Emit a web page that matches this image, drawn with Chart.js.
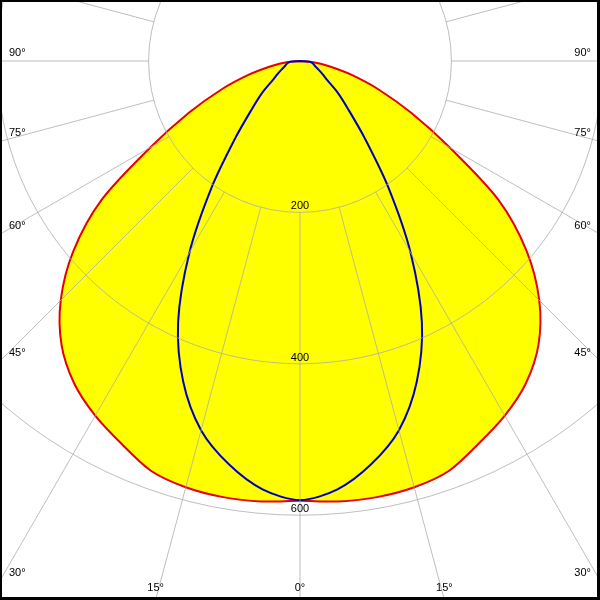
<!DOCTYPE html>
<html>
<head>
<meta charset="utf-8">
<script src="https://cdn.jsdelivr.net/npm/chart.js@4.4.1/dist/chart.umd.min.js"></script>
<style>
  body { margin: 0; background: #fff; }
  #wrap { position: relative; width: 600px; height: 600px; overflow: hidden; background: #fff; }
  #polar { position: absolute; left: -457px; top: -696px; }
  #frame { position: absolute; left: 0; top: 0; width: 600px; height: 600px; box-sizing: border-box;
           border-style: solid; border-color: #000; border-width: 2px 3px 3px 2px; pointer-events: none; }
</style>
</head>
<body>
<div id="wrap">
  <canvas id="polar" width="1514" height="1514"></canvas>
  <div id="frame"></div>
</div>
<script>
// gamma angles (deg from nadir), 5 deg steps, 0..90
const gamma = [0, 5, 10, 15, 20, 25, 30, 35, 40, 45, 50, 55, 60, 65, 70, 75, 80, 85, 90];

// C0 / C180 plane (red, filled) - cd/klm
const c0   = [581, 584, 585, 583, 576, 558, 541, 520, 490, 447, 391, 320, 228, 162, 111, 70, 38, 16, 0];
const c180 = [581, 584, 585, 583, 576, 558, 541, 520, 490, 447, 391, 320, 228, 162, 111, 70, 38, 16, 0];

// C90 / C270 plane (blue)
const c90  = [580, 568, 541, 505, 451, 381, 292, 203, 133, 90, 65, 44, 34, 27, 22, 19, 17, 13, 0];
const c270 = [580, 568, 541, 505, 451, 381, 292, 203, 133, 90, 65, 44, 34, 27, 22, 19, 17, 13, 0];

const ringValues = [200, 400, 600];
const angleTicks = [0, 15, 30, 45, 60, 75, 90];

const GRID = 'rgba(170,170,170,0.76)';
const FONT = '11px "Liberation Sans", Arial, sans-serif';

// full circle of labels, 5 deg apart, index 0 pointing down
const labels = [];
for (let a = 0; a < 360; a += 5) labels.push(a);

function toCircle(left, right) {
    return labels.map(a => {
        if (a <= 90) return left[gamma.indexOf(a)];
        if (a >= 270) return right[gamma.indexOf(360 - a)];
        return 0;
    });
}

// visible 600x600 window inside the big canvas
const view = { x0: 457, y0: 696, x1: 1057, y1: 1296 };

const polarDecor = {
    id: 'polarDecor',
    afterDatasetsDraw(chart) {
        const r = chart.scales.r;
        const ctx = chart.ctx;
        ctx.save();
        ctx.strokeStyle = GRID;
        ctx.lineWidth = 1;
        // rings on top of the fill
        ringValues.forEach(v => {
            ctx.beginPath();
            ctx.arc(r.xCenter, r.yCenter, r.getDistanceFromCenterForValue(v), 0, Math.PI * 2);
            ctx.stroke();
        });
        // 15 deg rays, starting at the first ring
        for (let i = 0; i < labels.length; i += 3) {
            const a = r.getPointPositionForValue(i, ringValues[0]);
            const b = r.getPointPositionForValue(i, r.max);
            ctx.beginPath();
            ctx.moveTo(a.x, a.y);
            ctx.lineTo(b.x, b.y);
            ctx.stroke();
        }
        ctx.restore();
    },
    afterDraw(chart) {
        const r = chart.scales.r;
        const ctx = chart.ctx;
        ctx.save();
        ctx.font = FONT;
        ctx.fillStyle = '#000';

        // ring values along the 0 deg line
        ctx.textAlign = 'center';
        ctx.textBaseline = 'middle';
        ringValues.forEach(v => {
            const p = r.getPointPositionForValue(0, v);
            ctx.fillText(String(v), p.x, p.y - 6);
        });

        // angle labels where the rays leave the window
        const cx = r.xCenter, cy = r.yCenter;
        angleTicks.forEach(g => {
            const idxs = g === 0 ? [0] : [g / 5, labels.length - g / 5];
            idxs.forEach(i => {
                const p = r.getPointPositionForValue(i, r.max);
                const dx = p.x - cx, dy = p.y - cy;
                let best = null;
                const tryHit = (t, side) => {
                    if (t <= 0) return;
                    const x = cx + dx * t, y = cy + dy * t;
                    if (x < view.x0 - 0.5 || x > view.x1 + 0.5 || y < view.y0 - 0.5 || y > view.y1 + 0.5) return;
                    if (!best || t < best.t) best = { t, x, y, side };
                };
                if (dx !== 0) {
                    tryHit((view.x0 - cx) / dx, 'left');
                    tryHit((view.x1 - cx) / dx, 'right');
                }
                if (dy !== 0) tryHit((view.y1 - cy) / dy, 'bottom');
                if (!best) return;
                const txt = g + '\u00b0';
                if (best.side === 'left') {
                    ctx.textAlign = 'left';
                    ctx.fillText(txt, view.x0 + 9, best.y - 8);
                } else if (best.side === 'right') {
                    ctx.textAlign = 'right';
                    ctx.fillText(txt, view.x1 - 9, best.y - 8);
                } else {
                    ctx.textAlign = 'center';
                    ctx.fillText(txt, best.x, view.y1 - 12);
                }
            });
        });
        ctx.restore();
    }
};

new Chart(document.getElementById('polar'), {
    type: 'radar',
    data: {
        labels: labels,
        datasets: [
            {
                label: 'C90 - C270',
                data: toCircle(c90, c270),
                borderColor: '#0000c0',
                borderWidth: 2,
                fill: false,
                pointRadius: 0,
                tension: 0.3
            },
            {
                label: 'C0 - C180',
                data: toCircle(c0, c180),
                borderColor: '#e60000',
                backgroundColor: '#ffff00',
                borderWidth: 2,
                fill: 'origin',
                pointRadius: 0,
                tension: 0.3
            }
        ]
    },
    options: {
        responsive: false,
        animation: false,
        events: [],
        layout: { padding: 0 },
        plugins: { legend: { display: false }, tooltip: { enabled: false } },
        scales: {
            r: {
                min: 0,
                max: 1000,
                startAngle: 180,
                ticks: { display: false, stepSize: 200 },
                pointLabels: { display: false },
                angleLines: { display: false },
                grid: { display: false }
            }
        }
    },
    plugins: [polarDecor]
});
</script>
</body>
</html>
